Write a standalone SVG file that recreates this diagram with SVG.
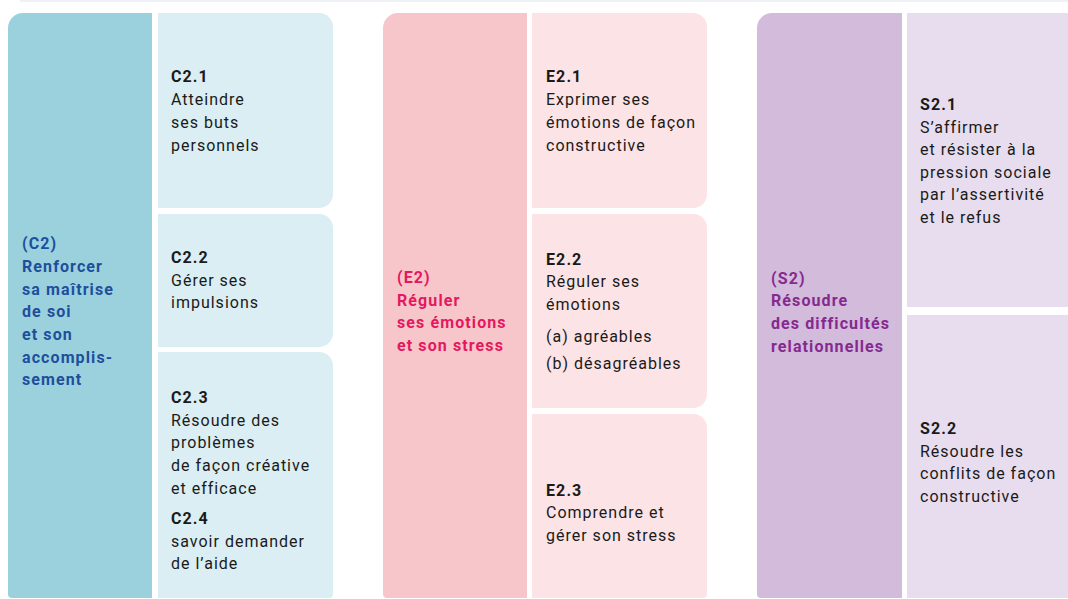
<svg xmlns="http://www.w3.org/2000/svg" width="1068" height="599" viewBox="0 0 1068 599">
<style>
text{font-family:Roboto,"Liberation Sans",sans-serif;font-size:16px;letter-spacing:1px}
.b{font-weight:bold;letter-spacing:1.1px}
.t{fill:#1a1a1a}
.hc{fill:#9bd1dd}.cc{fill:#daeef3}.tc{fill:#1d4f9c}
.he{fill:#f7c6cb}.ce{fill:#fbe3e6}.te{fill:#e4185d}
.hs{fill:#d2bbdb}.cs{fill:#e8ddee}.ts{fill:#86298f}
</style>
<rect x="20" y="0" width="1048" height="2" fill="#eef1f6"/>
<g id="C2">
<path class="hc" d="M8,594 L8,28 A15,15 0 0 1 23,13 L152,13 L152,598 L12,598 A4,4 0 0 1 8,594 Z"/>
<text class="b tc" x="22" y="249">(C2)</text>
<text class="b tc" x="22" y="272">Renforcer</text>
<text class="b tc" x="22" y="295">sa maîtrise</text>
<text class="b tc" x="22" y="317">de soi</text>
<text class="b tc" x="22" y="340">et son</text>
<text class="b tc" x="22" y="363">accomplis-</text>
<text class="b tc" x="22" y="385">sement</text>
</g>
<g id="C2.1">
<path class="cc" d="M158,13 L319,13 A14,14 0 0 1 333,27 L333,194 A14,14 0 0 1 319,208 L158,208 Z"/>
<text class="b t" x="171" y="82">C2.1</text>
<text class="t" x="171" y="105">Atteindre</text>
<text class="t" x="171" y="128">ses buts</text>
<text class="t" x="171" y="151">personnels</text>
</g>
<g id="C2.2">
<path class="cc" d="M158,214 L319,214 A14,14 0 0 1 333,228 L333,333 A14,14 0 0 1 319,347 L158,347 Z"/>
<text class="b t" x="171" y="263">C2.2</text>
<text class="t" x="171" y="286">Gérer ses</text>
<text class="t" x="171" y="308">impulsions</text>
</g>
<g id="C2.3">
<path class="cc" d="M158,352 L319,352 A14,14 0 0 1 333,366 L333,594 A4,4 0 0 1 329,598 L158,598 Z"/>
<text class="b t" x="171" y="403">C2.3</text>
<text class="t" x="171" y="426">Résoudre des</text>
<text class="t" x="171" y="448">problèmes</text>
<text class="t" x="171" y="471">de façon créative</text>
<text class="t" x="171" y="494">et efficace</text>
<text class="b t" x="171" y="524">C2.4</text>
<text class="t" x="171" y="547">savoir demander</text>
<text class="t" x="171" y="569">de l’aide</text>
</g>
<g id="E2">
<path class="he" d="M383,594 L383,28 A15,15 0 0 1 398,13 L527,13 L527,598 L387,598 A4,4 0 0 1 383,594 Z"/>
<text class="b te" x="397" y="283">(E2)</text>
<text class="b te" x="397" y="306">Réguler</text>
<text class="b te" x="397" y="328">ses émotions</text>
<text class="b te" x="397" y="351">et son stress</text>
</g>
<g id="E2.1">
<path class="ce" d="M532,13 L693,13 A14,14 0 0 1 707,27 L707,194 A14,14 0 0 1 693,208 L532,208 Z"/>
<text class="b t" x="546" y="82">E2.1</text>
<text class="t" x="546" y="105">Exprimer ses</text>
<text class="t" x="546" y="128">émotions de façon</text>
<text class="t" x="546" y="151">constructive</text>
</g>
<g id="E2.2">
<path class="ce" d="M532,214 L693,214 A14,14 0 0 1 707,228 L707,394 A14,14 0 0 1 693,408 L532,408 Z"/>
<text class="b t" x="546" y="265">E2.2</text>
<text class="t" x="546" y="287">Réguler ses</text>
<text class="t" x="546" y="310">émotions</text>
<text class="t" x="546" y="342">(a) agréables</text>
<text class="t" x="546" y="369">(b) désagréables</text>
</g>
<g id="E2.3">
<path class="ce" d="M532,414 L693,414 A14,14 0 0 1 707,428 L707,594 A4,4 0 0 1 703,598 L532,598 Z"/>
<text class="b t" x="546" y="496">E2.3</text>
<text class="t" x="546" y="518">Comprendre et</text>
<text class="t" x="546" y="541">gérer son stress</text>
</g>
<g id="S2">
<path class="hs" d="M757,594 L757,28 A15,15 0 0 1 772,13 L902,13 L902,598 L761,598 A4,4 0 0 1 757,594 Z"/>
<text class="b ts" x="771" y="284">(S2)</text>
<text class="b ts" x="771" y="306">Résoudre</text>
<text class="b ts" x="771" y="329">des difficultés</text>
<text class="b ts" x="771" y="352">relationnelles</text>
</g>
<g id="S2.1">
<rect class="cs" x="907" y="13" width="161" height="294"/>
<text class="b t" x="920" y="110">S2.1</text>
<text class="t" x="920" y="133">S’affirmer</text>
<text class="t" x="920" y="155">et résister à la</text>
<text class="t" x="920" y="178">pression sociale</text>
<text class="t" x="920" y="200">par l’assertivité</text>
<text class="t" x="920" y="223">et le refus</text>
</g>
<g id="S2.2">
<rect class="cs" x="907" y="315" width="161" height="283"/>
<text class="b t" x="920" y="434">S2.2</text>
<text class="t" x="920" y="457">Résoudre les</text>
<text class="t" x="920" y="479">conflits de façon</text>
<text class="t" x="920" y="502">constructive</text>
</g>
<g id="connectors"/>
</svg>
